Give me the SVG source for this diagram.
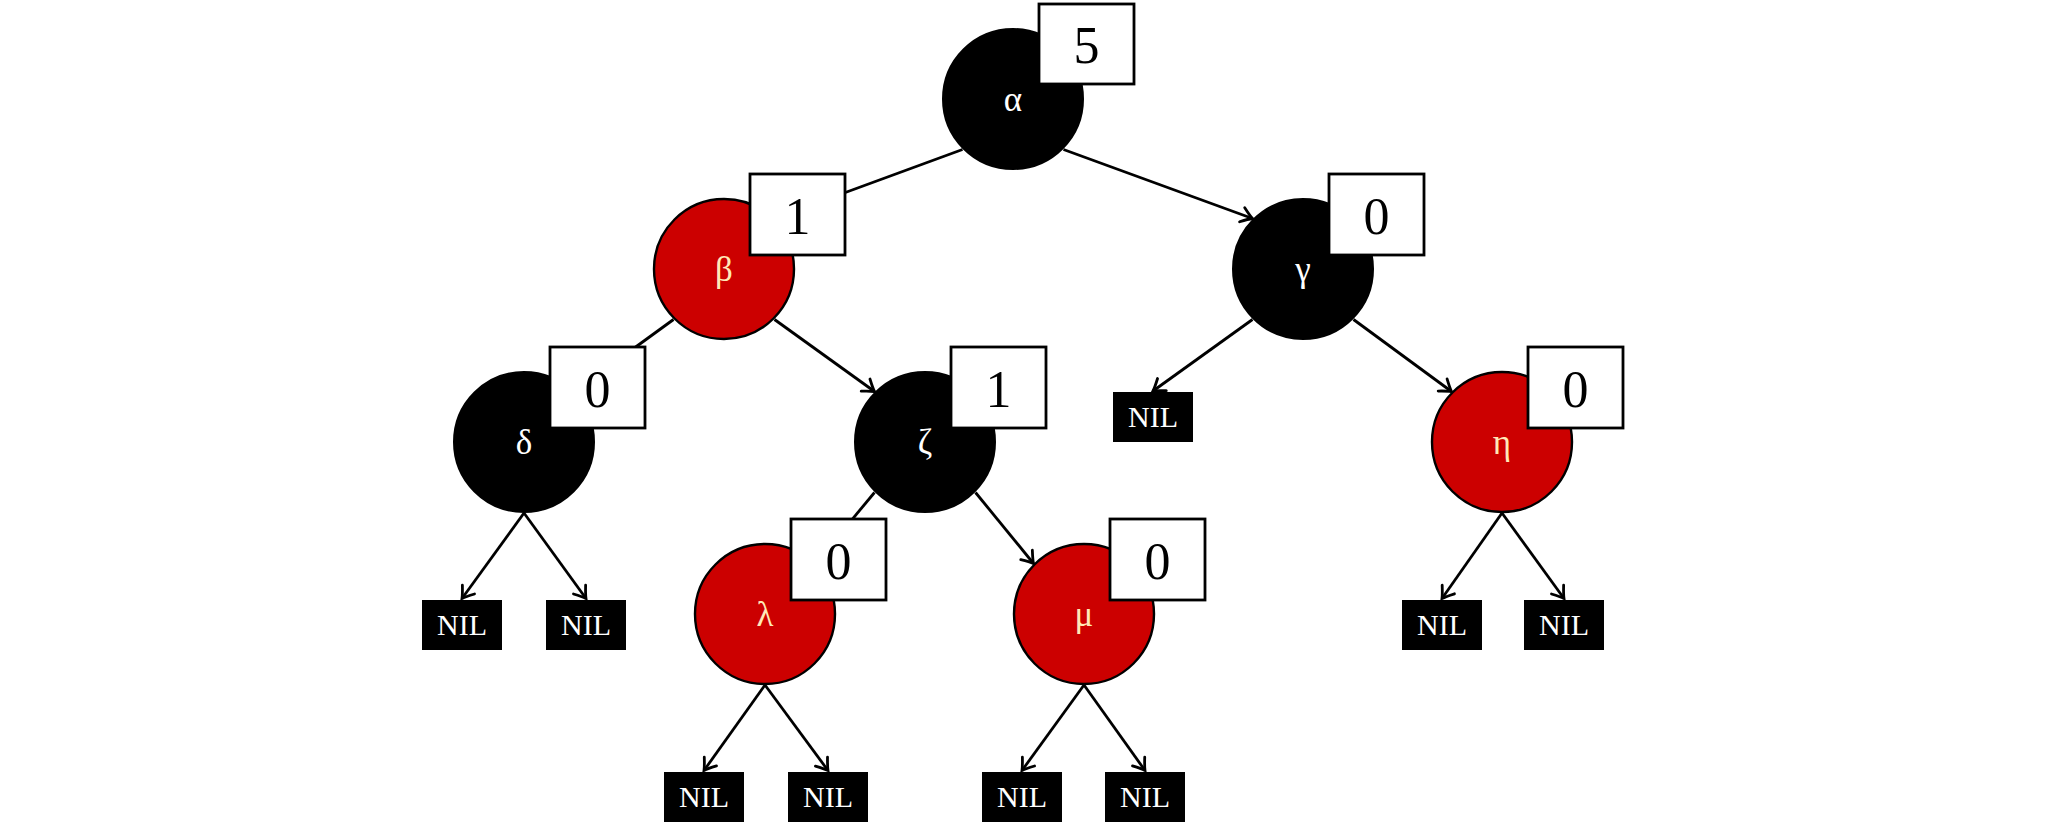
<svg xmlns="http://www.w3.org/2000/svg" width="2048" height="823" viewBox="0 0 2048 823">
<style>
.edge{stroke:#000;stroke-width:2.8;fill:none}
.blk{fill:#000;stroke:#000;stroke-width:2}
.red{fill:#cc0000;stroke:#000;stroke-width:2.4}
.box{fill:#fff;stroke:#000;stroke-width:2.8}
.num{font-family:"Liberation Serif",serif;font-size:52px;fill:#000;text-anchor:middle}
.gw{font-family:"Liberation Serif",serif;font-size:35px;fill:#fff;text-anchor:middle}
.gy{font-family:"Liberation Serif",serif;font-size:35px;fill:#ffe9b8;text-anchor:middle}
.nilr{fill:#000}
.nilt{font-family:"Liberation Serif",serif;font-size:30px;fill:#fff;text-anchor:middle}
</style>
<defs>
<marker id="arr" markerUnits="userSpaceOnUse" markerWidth="20" markerHeight="20" refX="0" refY="0" orient="auto" overflow="visible">
<path d="M -11 -7.5 Q -3.5 -1.8 0 0 Q -3.5 1.8 -11 7.5" fill="none" stroke="#000" stroke-width="2.8" stroke-linecap="round"/>
</marker>
</defs>
<rect width="2048" height="823" fill="#fff"/>
<g id="edges">
<path class="edge" d="M 962.5 149.5 L 774.5 218.5"/>
<path class="edge" d="M 1063.5 149.5 L 1252.5 218.5" marker-end="url(#arr)"/>
<path class="edge" d="M 673.5 319.5 L 574.5 391.5"/>
<path class="edge" d="M 774.5 319.5 L 874.5 391.5" marker-end="url(#arr)"/>
<path class="edge" d="M 1252.5 319.5 L 1153 391" marker-end="url(#arr)"/>
<path class="edge" d="M 1353.5 319.5 L 1451.5 391.5" marker-end="url(#arr)"/>
<path class="edge" d="M 524 513 L 462 598.5" marker-end="url(#arr)"/>
<path class="edge" d="M 524 513 L 586 598.5" marker-end="url(#arr)"/>
<path class="edge" d="M 874.5 492.5 L 815.5 563.5"/>
<path class="edge" d="M 975.5 492.5 L 1033.5 563.5" marker-end="url(#arr)"/>
<path class="edge" d="M 765 685 L 704 770.5" marker-end="url(#arr)"/>
<path class="edge" d="M 765 685 L 828 770.5" marker-end="url(#arr)"/>
<path class="edge" d="M 1084 685 L 1022 770.5" marker-end="url(#arr)"/>
<path class="edge" d="M 1084 685 L 1145 770.5" marker-end="url(#arr)"/>
<path class="edge" d="M 1502 513 L 1442 598.5" marker-end="url(#arr)"/>
<path class="edge" d="M 1502 513 L 1564 598.5" marker-end="url(#arr)"/>
</g>
<g id="alpha">
<circle class="blk" cx="1013" cy="99" r="70"/>
<text class="gw" x="1013" y="111">α</text>
<rect class="box" x="1039" y="4" width="95" height="80"/>
<text class="num" x="1086.5" y="63">5</text>
</g>
<g id="beta">
<circle class="red" cx="724" cy="269" r="70"/>
<text class="gy" x="724" y="281">β</text>
<rect class="box" x="750" y="174" width="95" height="81"/>
<text class="num" x="797.5" y="234">1</text>
</g>
<g id="gamma">
<circle class="blk" cx="1303" cy="269" r="70"/>
<text class="gw" x="1303" y="281">γ</text>
<rect class="box" x="1329" y="174" width="95" height="81"/>
<text class="num" x="1376.5" y="234">0</text>
</g>
<g id="delta">
<circle class="blk" cx="524" cy="442" r="70"/>
<text class="gw" x="524" y="454">δ</text>
<rect class="box" x="550" y="347" width="95" height="81"/>
<text class="num" x="597.5" y="407">0</text>
</g>
<g id="zeta">
<circle class="blk" cx="925" cy="442" r="70"/>
<text class="gw" x="925" y="454">ζ</text>
<rect class="box" x="951" y="347" width="95" height="81"/>
<text class="num" x="998.5" y="407">1</text>
</g>
<g id="eta">
<circle class="red" cx="1502" cy="442" r="70"/>
<text class="gy" x="1502" y="454">η</text>
<rect class="box" x="1528" y="347" width="95" height="81"/>
<text class="num" x="1575.5" y="407">0</text>
</g>
<g id="lambda">
<circle class="red" cx="765" cy="614" r="70"/>
<text class="gy" x="765" y="626">λ</text>
<rect class="box" x="791" y="519" width="95" height="81"/>
<text class="num" x="838.5" y="579">0</text>
</g>
<g id="mu">
<circle class="red" cx="1084" cy="614" r="70"/>
<text class="gy" x="1084" y="626">μ</text>
<rect class="box" x="1110" y="519" width="95" height="81"/>
<text class="num" x="1157.5" y="579">0</text>
</g>
<g id="nil-gamma"><rect class="nilr" x="1113" y="392" width="80" height="50"/><text class="nilt" x="1153" y="427">NIL</text></g>
<g id="nil-delta-l"><rect class="nilr" x="422" y="600" width="80" height="50"/><text class="nilt" x="462" y="635">NIL</text></g>
<g id="nil-delta-r"><rect class="nilr" x="546" y="600" width="80" height="50"/><text class="nilt" x="586" y="635">NIL</text></g>
<g id="nil-eta-l"><rect class="nilr" x="1402" y="600" width="80" height="50"/><text class="nilt" x="1442" y="635">NIL</text></g>
<g id="nil-eta-r"><rect class="nilr" x="1524" y="600" width="80" height="50"/><text class="nilt" x="1564" y="635">NIL</text></g>
<g id="nil-lambda-l"><rect class="nilr" x="664" y="772" width="80" height="50"/><text class="nilt" x="704" y="807">NIL</text></g>
<g id="nil-lambda-r"><rect class="nilr" x="788" y="772" width="80" height="50"/><text class="nilt" x="828" y="807">NIL</text></g>
<g id="nil-mu-l"><rect class="nilr" x="982" y="772" width="80" height="50"/><text class="nilt" x="1022" y="807">NIL</text></g>
<g id="nil-mu-r"><rect class="nilr" x="1105" y="772" width="80" height="50"/><text class="nilt" x="1145" y="807">NIL</text></g>
</svg>
